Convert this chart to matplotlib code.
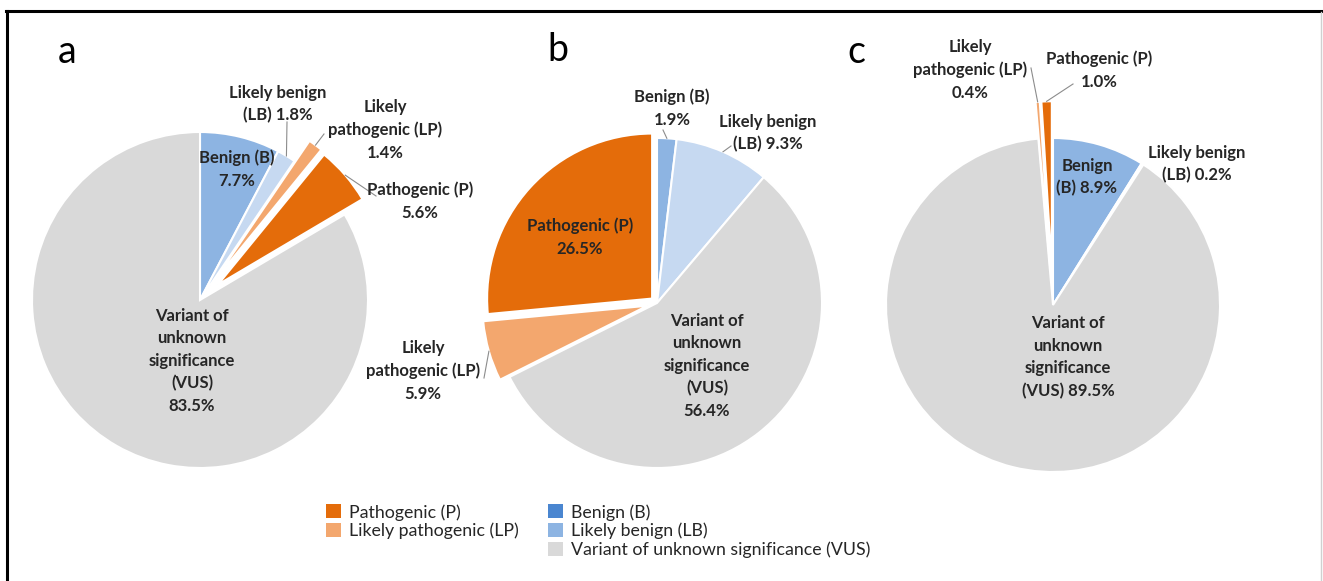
import numpy as np
import matplotlib
matplotlib.use("Agg")
import matplotlib.pyplot as plt
from matplotlib.patches import Patch
from matplotlib.lines import Line2D

W, H = 1323, 581

# category colours (pie / legend)
pie_colors = {"P": "#E46C0A", "LP": "#F3A76E", "B": "#8DB4E2", "LB": "#C6D9F1", "VUS": "#D9D9D9"}
legend_colors = {"P": "#E46C0A", "LP": "#F3A76E", "B": "#4A86D0", "LB": "#8DB4E2", "VUS": "#D9D9D9"}
legend_names = {"P": "Pathogenic (P)", "LP": "Likely pathogenic (LP)", "B": "Benign (B)",
                "LB": "Likely benign (LB)", "VUS": "Variant of unknown significance (VUS)"}

# slices, clockwise from 12 o'clock
a_cats = ["B", "LB", "LP", "P", "VUS"]
a_values = [7.7, 1.8, 1.4, 5.6, 83.5]
a_text = ["Benign (B)\n{}", "Likely benign\n(LB) {}", "Likely\npathogenic (LP)\n{}",
          "Pathogenic (P)\n{}", "Variant of\nunknown\nsignificance\n(VUS)\n{}"]

b_cats = ["B", "LB", "VUS", "LP", "P"]
b_values = [1.9, 9.3, 56.4, 5.9, 26.5]
b_text = ["Benign (B)\n{}", "Likely benign\n(LB) {}", "Variant of\nunknown\nsignificance\n(VUS)\n{}",
          "Likely\npathogenic (LP)\n{}", "Pathogenic (P)\n{}"]

c_cats = ["B", "LB", "VUS", "LP", "P"]
c_values = [8.9, 0.2, 89.5, 0.4, 1.0]
c_text = ["Benign\n(B) {}", "Likely benign\n(LB) {}", "Variant of\nunknown\nsignificance\n(VUS) {}",
          "Likely\npathogenic (LP)\n{}", "Pathogenic (P)\n{}"]

# layout (pixels, y from top); explode given as fraction of radius
panels = [
    dict(letter="a", letter_xy=(67, 52), cats=a_cats, values=a_values, text=a_text,
         center=(200, 300), radius=168, explode=[0, 0, 0.15, 0.14, 0],
         label_xy=[(237, 169), (278, 104), (385, 130), (420, 201), (192, 361)],
         leaders={1: (287, 122), 2: (324, 134), 3: (376, 196)}),
    dict(letter="b", letter_xy=(558, 50), cats=b_cats, values=b_values, text=b_text,
         center=(657, 303), radius=165, explode=[0, 0, 0, 0.06, 0.04],
         label_xy=[(672, 108), (768, 133), (707, 366), (423, 371), (580, 237)],
         leaders={0: (663, 130), 1: (731, 146), 3: (484, 378)}),
    dict(letter="c", letter_xy=(856, 52), cats=c_cats, values=c_values, text=c_text,
         center=(1053, 305), radius=167, explode=[0, 0, 0, 0.22, 0.22],
         label_xy=[(1087, 177), (1197, 164), (1068, 357), (970, 70), (1099, 70)],
         leaders={3: (1031, 68), 4: (1073, 84)}),
]

plt.rcParams["font.family"] = ["Lato", "DejaVu Sans"]

fig = plt.figure(figsize=(W / 100, H / 100), dpi=100)
ax = fig.add_axes([0, 0, 1, 1])

for p in panels:
    cx, cy = p["center"]
    r = p["radius"]
    wedges, _ = ax.pie(p["values"], colors=[pie_colors[c] for c in p["cats"]],
                       explode=[e * r for e in p["explode"]], center=(cx, H - cy), radius=r,
                       startangle=90, counterclock=False, frame=True,
                       wedgeprops=dict(edgecolor="white", linewidth=1.5))
    for i, (tmpl, v) in enumerate(zip(p["text"], p["values"])):
        lx, ly = p["label_xy"][i]
        ax.text(lx, H - ly, tmpl.format(f"{v:.1f}%"), ha="center", va="center",
                fontsize=12, fontweight="bold", color="#262626", linespacing=1.5)
    for i, (ax0, ay0) in p["leaders"].items():
        w = wedges[i]
        mid = np.deg2rad((w.theta1 + w.theta2) / 2)
        ex = w.center[0] + w.r * np.cos(mid)
        ey = w.center[1] + w.r * np.sin(mid)
        ax.plot([ax0, ex], [H - ay0, ey], color="#8c8c8c", lw=0.8)
    lx, ly = p["letter_xy"]
    ax.text(lx, H - ly, p["letter"], ha="center", va="center", fontsize=27, color="black")

ax.set_xlim(0, W)
ax.set_ylim(0, H)
ax.set_aspect("equal")
ax.axis("off")

# legend: two columns placed separately
def legend_handles(keys):
    return [Patch(facecolor=legend_colors[k], edgecolor="none") for k in keys], [legend_names[k] for k in keys]

leg_kw = dict(frameon=False, fontsize=12.8, handlelength=0.85, handleheight=0.85,
              handletextpad=0.45, labelspacing=0.12, borderpad=0, borderaxespad=0,
              loc="upper left", labelcolor="#262626")
h1, l1 = legend_handles(["P", "LP"])
fig.legend(h1, l1, bbox_to_anchor=(326 / W, 1 - 504 / H), **leg_kw)
h2, l2 = legend_handles(["B", "LB", "VUS"])
fig.legend(h2, l2, bbox_to_anchor=(548 / W, 1 - 504 / H), **leg_kw)

# frame lines
fig.add_artist(Line2D([6 / W, 1], [1 - 11 / H, 1 - 11 / H], transform=fig.transFigure, color="black", lw=2.2))
fig.add_artist(Line2D([7 / W, 7 / W], [0, 1 - 11 / H], transform=fig.transFigure, color="black", lw=2.2))
fig.add_artist(Line2D([1321 / W, 1321 / W], [0, 1 - 12 / H], transform=fig.transFigure, color="#d0d0d0", lw=1))

fig.savefig("out.png", dpi=100)
